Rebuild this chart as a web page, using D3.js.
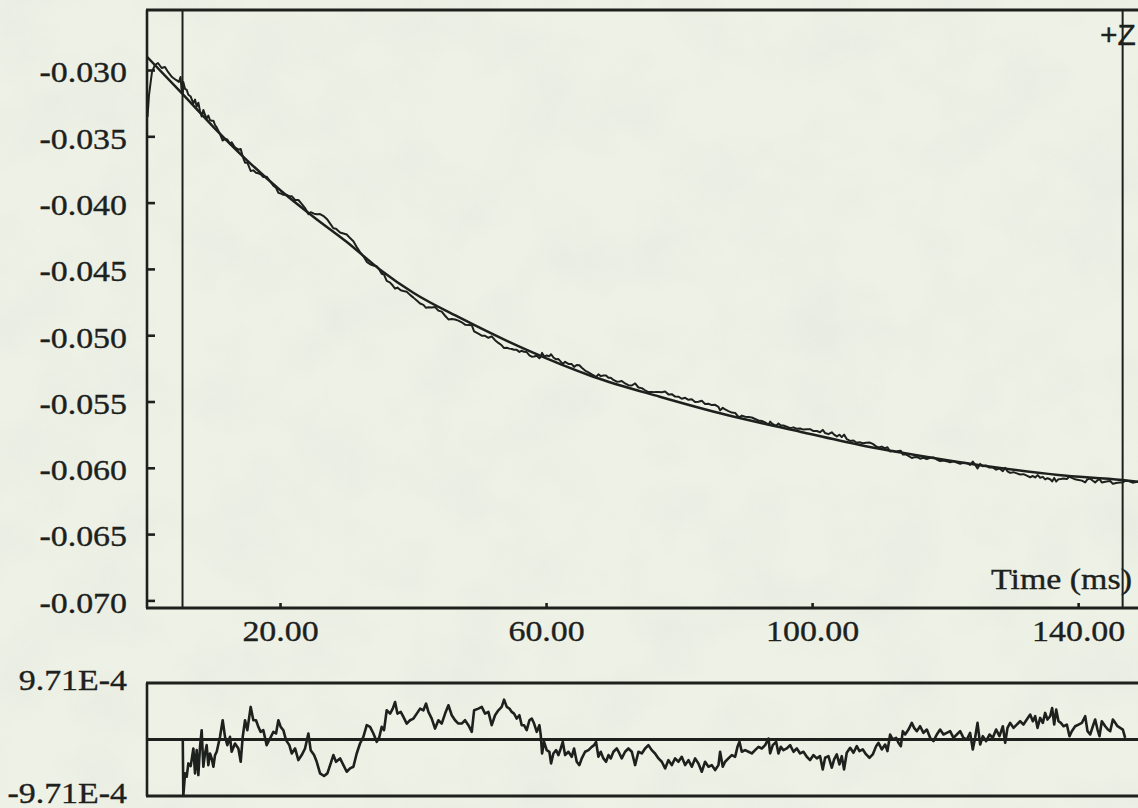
<!DOCTYPE html>
<html>
<head>
<meta charset="utf-8">
<script src="https://cdn.jsdelivr.net/npm/d3@7"></script>
<style>
  html, body { margin: 0; padding: 0; background: #ecefe3; }
  svg { display: block; }
</style>
</head>
<body>
<svg id="chart" width="1138" height="808"></svg>
<script>
// ---- Kinetic trace: fitted decay (ms vs signal) ----
const fitTime  = [0, 5.26, 10.0, 15.0, 20.0, 25.0, 30.0, 35.1, 40.1, 47.1, 57.1, 67.1, 77.1, 87.2, 97.1, 107.2, 117.1, 127.2, 137.0, 146.6, 149.0];
const fitValue = [-0.02900, -0.03176, -0.03430, -0.03679, -0.03905, -0.04106, -0.04295, -0.04508, -0.04682, -0.04870,
                  -0.05111, -0.05313, -0.05464, -0.05602, -0.05715, -0.05828, -0.05916, -0.05994, -0.06054, -0.06092, -0.06105];

// raw signal before the left cursor
const preTime  = [0.08, 0.30, 0.75, 1.20, 1.65, 2.20, 2.70, 3.16, 3.76, 4.36, 4.80, 5.04, 5.20];
const preValue = [-0.03354, -0.03189, -0.03015, -0.02962, -0.02947, -0.02985, -0.02977, -0.03015, -0.03053, -0.03075, -0.03090, -0.03053, -0.03150];

// raw signal after the right cursor
const postTime  = [147.6, 148.2, 148.7, 149.0];
const postValue = [-0.06100, -0.06112, -0.06108, -0.06102];

// residuals between the cursors (units of 1E-4)
const residTime = [
  5.38, 5.46, 5.72, 5.97, 6.22, 6.57, 6.97, 7.22, 7.47, 7.72, 7.97, 8.22, 8.47, 8.72, 8.97, 9.22, 9.47, 9.73, 9.98, 10.23,
  10.48, 10.98, 11.38, 11.73, 12.08, 12.48, 12.73, 13.23, 13.74, 14.09, 14.39, 14.74, 15.09, 15.59, 15.99, 16.39, 16.74, 17.09, 17.49, 17.99,
  18.50, 19.00, 19.40, 19.75, 20.10, 20.50, 20.90, 21.40, 21.76, 22.26, 22.76, 23.26, 23.76, 24.26, 24.61, 25.12, 25.52, 26.02, 26.62, 27.12,
  27.62, 28.02, 28.42, 29.03, 29.53, 30.03, 30.53, 31.03, 31.53, 32.03, 32.53, 33.04, 33.54, 34.04, 34.54, 34.94, 35.29, 35.64, 36.04, 36.55,
  36.95, 37.30, 37.65, 38.15, 38.55, 39.05, 39.55, 40.06, 40.56, 41.06, 41.56, 41.96, 42.31, 42.81, 43.31, 43.81, 44.31, 44.82, 45.32, 45.82,
  46.32, 46.82, 47.32, 47.82, 48.32, 48.83, 49.18, 49.83, 50.33, 50.83, 51.33, 51.83, 52.33, 52.83, 53.33, 53.69, 54.09, 54.49, 54.84, 55.19,
  55.59, 55.99, 56.34, 56.69, 57.09, 57.50, 57.85, 58.20, 58.60, 59.00, 59.20, 59.40, 59.70, 60.10, 60.50, 60.75, 61.10, 61.51, 61.86, 62.21,
  62.51, 62.86, 63.36, 63.86, 64.21, 64.61, 65.01, 65.37, 65.87, 66.37, 66.87, 67.22, 67.52, 67.87, 68.22, 68.62, 69.02, 69.38, 69.73, 70.13,
  70.63, 71.03, 71.38, 71.88, 72.38, 72.89, 73.39, 73.89, 74.39, 74.89, 75.39, 75.89, 76.39, 76.90, 77.40, 77.90, 78.40, 78.90, 79.40, 79.90,
  80.40, 80.91, 81.41, 81.91, 82.41, 82.91, 83.41, 83.91, 84.42, 84.92, 85.42, 85.92, 86.17, 86.57, 86.92, 87.42, 87.92, 88.43, 88.78, 89.08,
  89.43, 89.93, 90.43, 90.93, 91.43, 91.94, 92.44, 92.94, 93.44, 93.69, 94.09, 94.59, 94.94, 95.29, 95.69, 96.19, 96.70, 97.20, 97.70, 98.20,
  98.70, 99.20, 99.70, 100.21, 100.71, 101.20, 101.60, 101.96, 102.46, 102.96, 103.31, 103.71, 104.11, 104.46, 104.81, 105.21, 105.72, 106.22, 106.72, 107.12,
  107.62, 108.12, 108.62, 109.12, 109.63, 109.98, 110.48, 110.98, 111.33, 111.73, 112.13, 112.63, 112.98, 113.34, 113.64, 113.99, 114.49, 114.99, 115.34, 115.74,
  116.24, 116.74, 117.25, 117.75, 118.25, 118.75, 119.25, 119.75, 120.25, 120.75, 121.26, 121.76, 122.26, 122.76, 123.26, 123.76, 124.16, 124.51, 124.87, 125.27,
  125.67, 126.17, 126.67, 127.17, 127.67, 128.17, 128.68, 129.03, 129.38, 129.78, 130.28, 130.78, 131.28, 131.78, 132.28, 132.79, 133.19, 133.54, 133.89, 134.29,
  134.69, 135.04, 135.39, 135.79, 136.09, 136.40, 136.70, 137.05, 137.40, 137.80, 138.30, 138.70, 139.05, 139.55, 140.06, 140.56, 141.06, 141.41, 141.81, 142.21,
  142.56, 142.91, 143.21, 143.56, 144.07, 144.47, 144.82, 145.22, 145.57, 145.92, 146.32, 146.72, 147.07
];
const residValue = [
  -0.20, -9.71, -5.82, -6.40, -4.11, -4.57, -1.54, -5.82, -1.83, -6.11, -1.26, 1.60, -4.68, -2.40, -0.97, -4.40, -2.40, -3.25, -4.68, -2.68,
  -2.11, 0.46, 3.31, 0.46, -0.97, 0.46, -2.11, -0.69, -1.54, -3.83, 0.46, 3.31, 1.60, 5.60, 3.31, 3.31, 2.17, 1.31, 1.60, -0.97,
  0.17, 1.31, 1.03, 3.31, 2.17, 1.60, -0.11, -0.97, -2.40, -1.54, -3.54, -2.68, -1.54, 1.03, -1.83, -2.68, -3.83, -5.82, -6.28, -5.82,
  -4.11, -2.68, -3.83, -3.25, -4.40, -5.54, -4.97, -4.68, -2.40, -0.69, 0.46, 2.46, 2.17, 1.03, -0.40, 0.46, 2.17, 1.60, 5.02, 4.45,
  5.31, 6.45, 4.45, 4.74, 3.88, 2.74, 3.31, 3.60, 4.45, 5.31, 5.02, 6.17, 4.74, 3.60, 1.88, 3.31, 2.74, 4.45, 5.88, 4.17,
  3.31, 2.74, 2.74, 3.31, 2.46, 1.31, 5.02, 5.31, 5.60, 4.45, 4.74, 2.46, 4.17, 5.02, 5.60, 6.85, 5.60, 5.31, 4.74, 4.45,
  3.60, 4.17, 2.46, 2.46, 1.60, 3.31, 3.60, 2.74, 1.31, 2.46, 0.74, -2.40, -0.40, -1.83, -2.11, -4.11, -2.40, -1.83, -2.68, -1.54,
  -0.40, -2.68, -2.11, -2.97, -1.54, -3.83, -4.40, -3.25, -2.11, -1.83, -1.26, -0.97, -0.40, -2.97, -2.11, -3.25, -3.83, -2.68, -3.25, -2.11,
  -1.54, -2.40, -3.25, -2.11, -1.54, -2.11, -4.40, -2.11, -2.40, -1.54, -0.97, -1.83, -2.40, -3.25, -3.83, -4.97, -3.54, -4.40, -3.25, -3.83,
  -2.97, -4.40, -3.54, -4.68, -3.25, -4.11, -5.54, -3.83, -4.68, -4.40, -5.25, -4.40, -2.11, -4.68, -3.83, -3.25, -2.68, -2.97, -1.26, -0.40,
  -2.11, -1.83, -2.11, -2.40, -1.83, -1.26, -1.54, -0.97, 0.17, -2.40, -0.97, -0.40, -2.40, -1.26, -1.83, -1.54, -0.97, -2.11, -1.54, -2.40,
  -2.11, -2.97, -3.54, -2.68, -3.25, -2.86, -5.14, -3.14, -2.86, -4.85, -3.43, -2.57, -4.28, -2.86, -5.14, -2.28, -1.43, -2.28, -1.14, -2.00,
  -1.71, -2.57, -3.14, -2.57, -1.14, -0.57, -1.71, -0.86, -2.00, 0.86, 0.00, 0.29, -0.57, -1.14, 1.43, 0.86, 1.71, 2.86, 2.00, 1.43,
  2.28, 1.14, 1.71, 0.29, -0.29, 0.86, 1.71, 0.86, 1.14, 1.43, 0.29, 0.86, 1.43, 0.29, 0.00, 1.14, -1.71, 0.29, 2.86, -0.86,
  0.57, -0.29, 0.86, 0.29, 1.71, 0.57, 2.28, -0.57, 2.00, 2.86, 2.00, 2.57, 3.14, 2.57, 3.43, 4.28, 3.14, 4.00, 2.00, 3.71,
  2.86, 4.57, 3.43, 4.00, 5.42, 2.57, 5.14, 3.14, 2.86, 2.28, 2.57, 0.57, 1.43, 2.28, 2.57, 2.86, 4.00, 1.43, 0.86, 2.28,
  3.43, 1.71, 0.57, 3.14, 2.28, 1.71, 1.43, 3.43, 2.86, 2.28, 2.00, 1.71, 0.29
];
const RESID_UNIT = 1e-4;

// fit-window cursors (ms)
const cursorTimes = [5.34, 146.69];

// axes
const timeDomain = [0, 149.0];
const signalDomain = [-0.070573, -0.025475];
const xTicks = [20, 60, 100, 140];
const xTickLabels = ["20.00", "60.00", "100.00", "140.00"];
const yTicks = [-0.030, -0.035, -0.040, -0.045, -0.050, -0.055, -0.060, -0.065, -0.070];
const yTickLabels = ["-0.030", "-0.035", "-0.040", "-0.045", "-0.050", "-0.055", "-0.060", "-0.065", "-0.070"];
const residLimit = 9.71;
const residTicks = [9.71, -9.71];
const residTickLabels = ["9.71E-4", "-9.71E-4"];

// ---- drawing ----
const W = 1138, H = 808;
const ink = "#1c211d";
const SERIF = "'Liberation Serif', 'Times New Roman', serif";
const SANS = "'Liberation Sans', Arial, sans-serif";
const FONT_SIZE = 29.5;
const widen = "scale(1.15,1)";

const svg = d3.select("#chart");
const defs = svg.append("defs");

// mottled paper
const paper = defs.append("filter").attr("id", "paper")
  .attr("x", 0).attr("y", 0).attr("width", "100%").attr("height", "100%");
paper.append("feTurbulence").attr("type", "fractalNoise")
  .attr("baseFrequency", "0.014").attr("numOctaves", 3).attr("seed", 11).attr("result", "n");
paper.append("feColorMatrix").attr("in", "n").attr("type", "matrix")
  .attr("values", "0 0 0 0 0.80  0 0 0 0 0.83  0 0 0 0 0.76  2.2 0 0 0 -0.90");

svg.append("rect").attr("width", W).attr("height", H).attr("fill", "#eef1e5");
svg.append("rect").attr("width", W).attr("height", H).attr("filter", "url(#paper)").attr("opacity", 0.75);

const plot = { left: 147, right: 1138, top: 10, bottom: 608 };
const rbox = { top: 683, bottom: 796 };

const x = d3.scaleLinear().domain(timeDomain).range([plot.left, plot.right]);
const y = d3.scaleLinear().domain(signalDomain).range([plot.bottom, plot.top]);
const yr = d3.scaleLinear().domain([-residLimit, residLimit]).range([rbox.bottom, rbox.top]);

defs.append("clipPath").attr("id", "clipMain").append("rect")
  .attr("x", plot.left).attr("y", plot.top)
  .attr("width", plot.right - plot.left).attr("height", plot.bottom - plot.top);
defs.append("clipPath").attr("id", "clipResid").append("rect")
  .attr("x", plot.left).attr("y", rbox.top)
  .attr("width", plot.right - plot.left).attr("height", rbox.bottom - rbox.top);

// fitted curve, evaluated piecewise for the signal reconstruction
const fitAt = d3.scaleLinear().domain(fitTime).range(fitValue);

const fitPts = fitTime.map((t, i) => [t, fitValue[i]]);
const signalPts = []
  .concat(preTime.map((t, i) => [t, preValue[i]]))
  .concat(residTime.map((t, i) => [t, fitAt(t) - residValue[i] * RESID_UNIT]))
  .concat(postTime.map((t, i) => [t, postValue[i]]));
const residPts = residTime.map((t, i) => [t, Math.max(-residLimit, Math.min(residLimit, residValue[i]))]);

const mainLine = d3.line().x(d => x(d[0])).y(d => y(d[1]));
const fitLine = d3.line().x(d => x(d[0])).y(d => y(d[1])).curve(d3.curveMonotoneX);
const residLine = d3.line().x(d => x(d[0])).y(d => yr(d[1]));

const gMain = svg.append("g").attr("clip-path", "url(#clipMain)");
gMain.append("path").datum(signalPts).attr("d", mainLine)
  .attr("fill", "none").attr("stroke", ink).attr("stroke-width", 2.0).attr("stroke-linejoin", "round");
gMain.append("path").datum(fitPts).attr("d", fitLine)
  .attr("fill", "none").attr("stroke", ink).attr("stroke-width", 2.5);

// cursors
svg.append("g").selectAll("line").data(cursorTimes).join("line")
  .attr("x1", d => x(d)).attr("x2", d => x(d))
  .attr("y1", plot.top).attr("y2", plot.bottom)
  .attr("stroke", ink).attr("stroke-width", 2.0);

// frame of the main panel
const frame = svg.append("g").attr("stroke", ink).attr("fill", "none");
frame.append("line").attr("x1", plot.left - 1).attr("x2", plot.right).attr("y1", plot.top).attr("y2", plot.top).attr("stroke-width", 3.2);
frame.append("line").attr("x1", plot.left).attr("x2", plot.left).attr("y1", plot.top).attr("y2", plot.bottom).attr("stroke-width", 2.6);
frame.append("line").attr("x1", plot.left - 1).attr("x2", plot.right).attr("y1", plot.bottom).attr("y2", plot.bottom).attr("stroke-width", 3.0);

function styleText(sel) {
  sel.attr("fill", ink)
    .attr("stroke", ink).attr("stroke-width", 0.35)
    .attr("font-family", SERIF)
    .attr("font-size", FONT_SIZE)
    .attr("transform", widen);
}

function styleAxis(g) {
  g.select(".domain").remove();
  g.selectAll(".tick line").attr("stroke", ink).attr("stroke-width", 2.6);
  styleText(g.selectAll(".tick text"));
}

const yAxis = d3.axisLeft(y).tickValues(yTicks)
  .tickSizeInner(-8).tickSizeOuter(0).tickPadding(17.4)
  .tickFormat((d, i) => yTickLabels[i]);
const gy = svg.append("g").attr("transform", `translate(${plot.left},0)`).call(yAxis);
styleAxis(gy);
gy.selectAll(".tick text").attr("dy", "0.4em");

const xAxis = d3.axisBottom(x).tickValues(xTicks)
  .tickSizeInner(-5).tickSizeOuter(0).tickPadding(12)
  .tickFormat((d, i) => xTickLabels[i]);
const gx = svg.append("g").attr("transform", `translate(0,${plot.bottom})`).call(xAxis);
styleAxis(gx);

// axis title inside the panel
svg.append("g").attr("transform", "translate(991,589)")
  .append("text").text("Time (ms)")
  .call(styleText);

// cursor tag
svg.append("text").text("+Z")
  .attr("x", 1100).attr("y", 45)
  .attr("fill", ink).attr("stroke", ink).attr("stroke-width", 0.3)
  .attr("font-family", SANS).attr("font-size", 30);

// ---- residual panel ----
const gRes = svg.append("g").attr("stroke", ink).attr("fill", "none");
gRes.append("line").attr("x1", plot.left - 1).attr("x2", plot.right).attr("y1", rbox.top).attr("y2", rbox.top).attr("stroke-width", 2.8);
gRes.append("line").attr("x1", plot.left - 1).attr("x2", plot.right).attr("y1", rbox.bottom).attr("y2", rbox.bottom).attr("stroke-width", 2.8);
gRes.append("line").attr("x1", plot.left).attr("x2", plot.left).attr("y1", rbox.top).attr("y2", rbox.bottom).attr("stroke-width", 2.6);
gRes.append("line").attr("x1", plot.left).attr("x2", plot.right).attr("y1", yr(0)).attr("y2", yr(0)).attr("stroke-width", 2.8);

svg.append("g").attr("clip-path", "url(#clipResid)")
  .append("path").datum(residPts).attr("d", residLine)
  .attr("fill", "none").attr("stroke", ink).attr("stroke-width", 2.6).attr("stroke-linejoin", "round");

const rAxis = d3.axisLeft(yr).tickValues(residTicks)
  .tickSize(0).tickPadding(17.4)
  .tickFormat((d, i) => residTickLabels[i]);
const gra = svg.append("g").attr("transform", `translate(${plot.left},0)`).call(rAxis);
styleAxis(gra);
gra.selectAll(".tick text").attr("dy", "0.22em");
</script>
</body>
</html>
